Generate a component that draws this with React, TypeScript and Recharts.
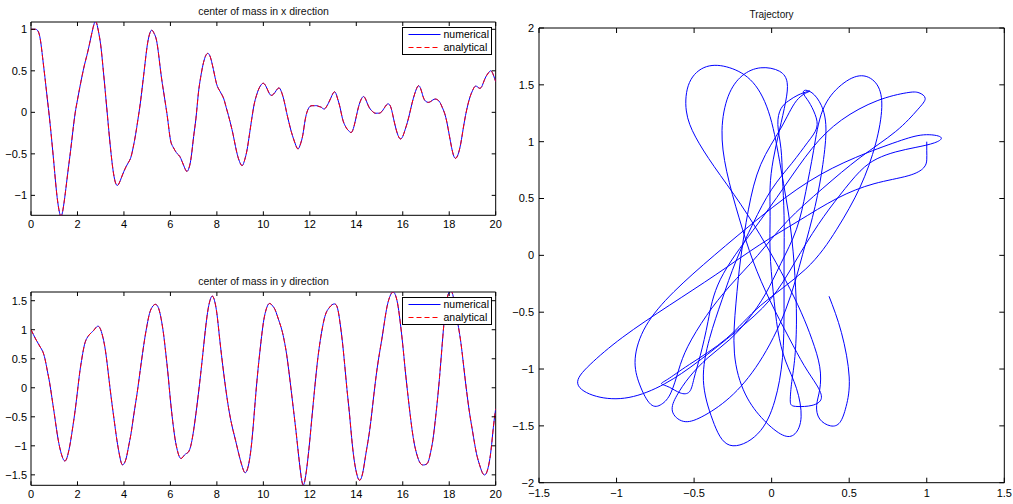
import React from "react";
import { LineChart, Line, XAxis, YAxis, ReferenceArea, Legend } from "recharts";

const COM_X = [
  1.0, 1.0, 1.0, 0.98, 0.88, 0.66, 0.42, 0.17, -0.08, -0.36,
  -0.66, -0.96, -1.17, -1.25, -1.13, -0.92, -0.69, -0.47, -0.23, -0.01,
  0.15, 0.3, 0.44, 0.57, 0.68, 0.8, 0.93, 1.05, 1.09, 0.98,
  0.81, 0.54, 0.24, -0.07, -0.37, -0.63, -0.81, -0.88, -0.85, -0.78,
  -0.71, -0.65, -0.6, -0.54, -0.42, -0.27, -0.09, 0.1, 0.33, 0.57,
  0.8, 0.94, 0.99, 0.95, 0.87, 0.68, 0.45, 0.26, 0.08, -0.12,
  -0.33, -0.41, -0.46, -0.5, -0.53, -0.59, -0.66, -0.71, -0.67, -0.53,
  -0.29, -0.07, 0.22, 0.42, 0.57, 0.67, 0.71, 0.68, 0.58, 0.45,
  0.33, 0.27, 0.22, 0.16, 0.06, -0.04, -0.15, -0.27, -0.41, -0.53,
  -0.61, -0.64, -0.57, -0.45, -0.27, -0.08, 0.09, 0.2, 0.28, 0.33,
  0.35, 0.32, 0.26, 0.21, 0.21, 0.24, 0.28, 0.29, 0.23, 0.13,
  0.0, -0.12, -0.23, -0.32, -0.4, -0.44, -0.38, -0.27, -0.09, 0.02,
  0.07, 0.08, 0.08, 0.08, 0.07, 0.06, 0.04, 0.06, 0.11, 0.17,
  0.23, 0.24, 0.16, 0.06, -0.07, -0.15, -0.2, -0.23, -0.24, -0.17,
  -0.05, 0.07, 0.15, 0.19, 0.16, 0.09, 0.04, 0.01, -0.01, -0.01,
  -0.01, 0.01, 0.05, 0.09, 0.1, 0.05, -0.07, -0.19, -0.28, -0.32,
  -0.29, -0.21, -0.12, -0.01, 0.11, 0.21, 0.29, 0.32, 0.26, 0.17,
  0.13, 0.12, 0.13, 0.15, 0.16, 0.15, 0.12, 0.06, -0.01, -0.12,
  -0.27, -0.42, -0.53, -0.55, -0.49, -0.37, -0.2, -0.04, 0.09, 0.19,
  0.26, 0.31, 0.31, 0.29, 0.31, 0.38, 0.44, 0.48, 0.5, 0.45,
  0.37,
];

const COM_Y = [
  1.0, 0.92, 0.84, 0.77, 0.7, 0.63, 0.5, 0.3, 0.09, -0.17,
  -0.44, -0.72, -0.96, -1.13, -1.24, -1.25, -1.13, -0.93, -0.67, -0.39,
  -0.06, 0.27, 0.53, 0.74, 0.85, 0.91, 0.95, 0.99, 1.04, 1.06,
  1.0, 0.86, 0.65, 0.34, 0.0, -0.32, -0.62, -0.91, -1.14, -1.31,
  -1.31, -1.21, -1.01, -0.8, -0.53, -0.27, 0.0, 0.3, 0.59, 0.86,
  1.09, 1.28, 1.38, 1.43, 1.43, 1.36, 1.19, 0.94, 0.6, 0.22,
  -0.21, -0.58, -0.88, -1.08, -1.2, -1.21, -1.16, -1.13, -1.09, -0.96,
  -0.73, -0.44, -0.12, 0.23, 0.6, 0.98, 1.3, 1.5, 1.58, 1.5,
  1.28, 0.92, 0.56, 0.23, -0.07, -0.34, -0.56, -0.74, -0.9, -1.07,
  -1.23, -1.37, -1.46, -1.42, -1.25, -0.94, -0.48, 0.01, 0.43, 0.8,
  1.12, 1.32, 1.43, 1.45, 1.41, 1.35, 1.24, 1.12, 0.99, 0.81,
  0.58, 0.28, -0.05, -0.39, -0.73, -1.1, -1.45, -1.67, -1.57, -1.28,
  -0.9, -0.47, -0.05, 0.35, 0.68, 0.94, 1.15, 1.29, 1.36, 1.41,
  1.44, 1.44, 1.36, 1.12, 0.8, 0.4, -0.03, -0.42, -0.86, -1.22,
  -1.45, -1.58, -1.57, -1.42, -1.17, -0.93, -0.66, -0.32, 0.03, 0.34,
  0.6, 0.84, 1.1, 1.35, 1.52, 1.62, 1.65, 1.58, 1.4, 1.1,
  0.74, 0.33, -0.05, -0.4, -0.72, -0.97, -1.14, -1.26, -1.32, -1.33,
  -1.32, -1.27, -1.11, -0.89, -0.56, -0.18, 0.26, 0.76, 1.22, 1.52,
  1.65, 1.66, 1.52, 1.27, 1.04, 0.78, 0.45, 0.1, -0.22, -0.5,
  -0.74, -0.98, -1.18, -1.32, -1.44, -1.5, -1.47, -1.33, -1.07, -0.68,
  -0.36,
];

// sample times (0.1 s grid)
const TIME = COM_X.map((_, i) => i / 10);

const TIME_TICKS = [0, 2, 4, 6, 8, 10, 12, 14, 16, 18, 20];
const X_TICKS = [-1, -0.5, 0, 0.5, 1];
const Y_TICKS = [-1.5, -1, -0.5, 0, 0.5, 1, 1.5];
const TRAJ_X_TICKS = [-1.5, -1, -0.5, 0, 0.5, 1, 1.5];
const TRAJ_Y_TICKS = [-2, -1.5, -1, -0.5, 0, 0.5, 1, 1.5, 2];

const X_DOMAIN: [number, number] = [-1.24, 1.088];
const Y_DOMAIN: [number, number] = [-1.68, 1.65];

const FONT = '"Liberation Sans", Arial, Helvetica, sans-serif';
const BLUE = "#0000ff";
const RED = "#ff0000";
const DASH = "5 3";
const GAP = 4;

const SERIES = [
  { key: "numerical", color: BLUE, dash: undefined as string | undefined },
  { key: "analytical", color: RED, dash: DASH },
];

const fmt = (v: number) => (v < 0 ? `\u2212${Math.abs(v)}` : `${v}`);

const xRows = TIME.map((t, i) => ({ t, numerical: COM_X[i], analytical: COM_X[i] }));
const yRows = TIME.map((t, i) => ({ t, numerical: COM_Y[i], analytical: COM_Y[i] }));
const trajRows = TIME.map((_, i) => ({ x: COM_X[i], y: COM_Y[i] }));

// ticks point inwards and repeat on the opposite side of the box (matlab style)
function BottomTick(props: any) {
  const { x, y, payload, span, len, gap } = props;
  const y0 = y - gap;
  return (
    <g>
      <line x1={x} x2={x} y1={y0} y2={y0 - len} stroke="#000" />
      <line x1={x} x2={x} y1={y0 - span} y2={y0 - span + len} stroke="#000" />
      <text x={x} y={y} dy="0.75em" textAnchor="middle" fontSize={11} fontFamily={FONT} fill="#000">
        {fmt(payload.value)}
      </text>
    </g>
  );
}

function LeftTick(props: any) {
  const { x, y, payload, span, len, gap } = props;
  const x0 = x + gap;
  return (
    <g>
      <line x1={x0} x2={x0 + len} y1={y} y2={y} stroke="#000" />
      <line x1={x0 + span - len} x2={x0 + span} y1={y} y2={y} stroke="#000" />
      <text x={x} y={y} dy="0.36em" textAnchor="end" fontSize={11} fontFamily={FONT} fill="#000">
        {fmt(payload.value)}
      </text>
    </g>
  );
}

function LegendBox() {
  return (
    <svg width={90} height={28} style={{ display: "block", overflow: "visible" }}>
      <rect x={0.5} y={0.5} width={89} height={27} fill="#fff" stroke="#000" />
      {SERIES.map((s, i) => {
        const cy = 7.5 + i * 13;
        return (
          <g key={s.key}>
            <path d={`M6.5,${cy}H38.5`} fill="none" stroke={s.color} strokeWidth={1.2} strokeDasharray={s.dash} />
            <text x={41.5} y={cy} dy="0.36em" fontSize={10.5} fontFamily={FONT} fill="#000">
              {s.key}
            </text>
          </g>
        );
      })}
    </svg>
  );
}

const titleStyle: React.CSSProperties = {
  position: "absolute",
  textAlign: "center",
  fontFamily: FONT,
  fontSize: 10.5,
  lineHeight: "12px",
  color: "#111",
  whiteSpace: "nowrap",
};

interface TimePlotProps {
  rows: { t: number; numerical: number; analytical: number }[];
  domain: [number, number];
  ticks: number[];
  top: number;
  title: string;
}

function TimePlot({ rows, domain, ticks, top, title }: TimePlotProps) {
  return (
    <div style={{ position: "absolute", left: 0, top, width: 513, height: 234 }}>
      <div style={{ ...titleStyle, left: 31, width: 465, top: 5 }}>{title}</div>
      <LineChart width={513} height={234} data={rows} margin={{ top: 22, right: 17.3, bottom: 0, left: 0 }}>
        <XAxis
          dataKey="t"
          type="number"
          domain={[0, 20]}
          ticks={TIME_TICKS}
          interval={0}
          allowDataOverflow
          height={18.7}
          axisLine={false}
          tickLine={false}
          tickSize={0}
          tickMargin={GAP}
          tick={<BottomTick span={193.3} len={4} gap={GAP} />}
        />
        <YAxis
          type="number"
          domain={domain}
          ticks={ticks}
          interval={0}
          allowDataOverflow
          width={31}
          axisLine={false}
          tickLine={false}
          tickSize={0}
          tickMargin={GAP}
          tick={<LeftTick span={464.7} len={4} gap={GAP} />}
        />
        {SERIES.map((s) => (
          <Line
            key={s.key}
            type="natural"
            dataKey={s.key}
            stroke={s.color}
            strokeWidth={1}
            strokeDasharray={s.dash}
            dot={false}
            isAnimationActive={false}
          />
        ))}
        <ReferenceArea x1={0} x2={20} y1={domain[0]} y2={domain[1]} fill="none" stroke="#000" strokeWidth={1} />
        <Legend
          layout="horizontal"
          align="center"
          verticalAlign="middle"
          wrapperStyle={{ left: 402, top: 27, width: 90, height: 28 }}
          content={() => <LegendBox />}
        />
      </LineChart>
    </div>
  );
}

export default function App() {
  return (
    <div style={{ position: "absolute", left: 0, top: 0, width: 1013, height: 504, background: "#fff", fontFamily: FONT }}>
      <TimePlot rows={xRows} domain={X_DOMAIN} ticks={X_TICKS} top={0} title="center of mass in x direction" />
      <TimePlot rows={yRows} domain={Y_DOMAIN} ticks={Y_TICKS} top={270} title="center of mass in y direction" />

      <div style={{ position: "absolute", left: 500, top: 0, width: 513, height: 504 }}>
        <div style={{ ...titleStyle, fontSize: 10, left: 39, width: 465, top: 9 }}>Trajectory</div>
        <LineChart width={513} height={504} data={trajRows} margin={{ top: 28, right: 8.7, bottom: 0, left: 0 }}>
          <XAxis
            dataKey="x"
            type="number"
            domain={[-1.5, 1.5]}
            ticks={TRAJ_X_TICKS}
            interval={0}
            allowDataOverflow
            height={21.3}
            axisLine={false}
            tickLine={false}
            tickSize={0}
            tickMargin={6}
            tick={<BottomTick span={454.7} len={5} gap={6} />}
          />
          <YAxis
            type="number"
            domain={[-2, 2]}
            ticks={TRAJ_Y_TICKS}
            interval={0}
            allowDataOverflow
            width={39}
            axisLine={false}
            tickLine={false}
            tickSize={0}
            tickMargin={5}
            tick={<LeftTick span={465.3} len={5} gap={5} />}
          />
          <Line
            type="natural"
            dataKey="y"
            stroke={BLUE}
            strokeWidth={1}
            dot={false}
            isAnimationActive={false}
          />
          <ReferenceArea x1={-1.5} x2={1.5} y1={-2} y2={2} fill="none" stroke="#000" strokeWidth={1} />
        </LineChart>
      </div>
    </div>
  );
}
